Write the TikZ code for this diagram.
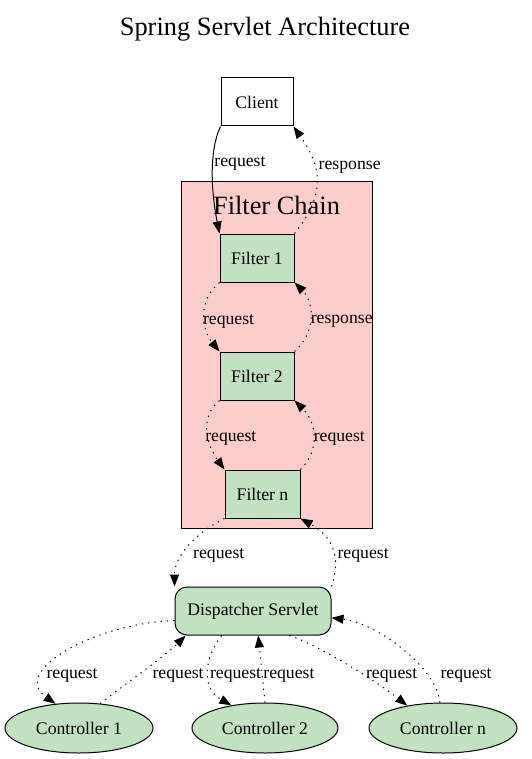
\documentclass[tikz,border=0pt]{standalone}
\usepackage{fontspec}
\setmainfont{Liberation Serif}
\usetikzlibrary{arrows.meta,shapes.geometric}
\usetikzlibrary{positioning}
\definecolor{nodegreen}{HTML}{C1E1C1}
\definecolor{chainpink}{HTML}{FFCCCC}

\begin{document}
\begin{tikzpicture}[%
x=1pt,
y=-1pt,
>={Triangle[length=12pt,width=9pt]},
every node/.style={font=\fontsize{17.7}{20}\selectfont},
big/.style={font=\fontsize{26.4}{30}\selectfont},
box/.style={draw, line width=1pt, minimum width=72pt, minimum height=48pt, inner sep=0pt},
filterbox/.style={box, fill=nodegreen, minimum width=74pt},
ctrl/.style={ellipse, draw, line width=1pt, fill=nodegreen, minimum width=148pt, minimum height=50pt, inner sep=0pt},
flow/.style={->, line width=1pt, dash pattern=on 1.3pt off 5pt},
lbl/.style={anchor=west, inner sep=0pt, yshift=-4pt},
]
\useasboundingbox (0,0) rectangle (531,759);

\coordinate (T) at (265,29);
\coordinate (K) at (257,102);
\coordinate (FC) at (276.5,355);
\coordinate (F1) at (257,258);
\coordinate (F2) at (257,376);
\coordinate (FN) at (262.5,494);
\coordinate (DS) at (253,611);
\coordinate (C1) at (79,728);
\coordinate (C2) at (265,728);
\coordinate (CN) at (443,728);

%Knoten
\node[big] (title) at (T) {Spring Servlet Architecture};
\node[box] (client) at (K) {Client};
\node[draw, fill=chainpink, line width=1pt, minimum width=191pt, minimum height=346pt] (chain) at (FC) {};
\node[big, inner sep=0pt, below=14pt of chain.north] (chainlbl) {Filter Chain};
\node[filterbox] (f1) at (F1) {Filter 1};
\node[filterbox] (f2) at (F2) {Filter 2};
\node[filterbox, minimum width=75pt] (fn) at (FN) {Filter n};
\node[box, fill=nodegreen, rounded corners=12pt, minimum width=156pt] (ds) at (DS) {Dispatcher Servlet};
\node[ctrl] (c1) at (C1) {Controller 1};
\node[ctrl, minimum width=146pt] (c2) at (C2) {Controller 2};
\node[ctrl] (cn) at (CN) {Controller n};

%Kanten
\draw[->, line width=1pt] (client.south west) .. controls +(-12,25) and +(-8,-40) .. (f1.north west)
  node[lbl, pos=.36, xshift=1pt]{request};
\draw[flow] (f1.north east) .. controls +(32,-40) and +(28,40) .. (client.south east)
  node[lbl, pos=.67, xshift=5pt]{response};
\draw[flow] (f1.south west) .. controls +(-22,18) and +(-18,-22) .. (f2.north west)
  node[lbl, pos=.5, xshift=-2pt, yshift=-2pt]{request};
\draw[flow] (f2.north east) .. controls +(24,-22) and +(18,18) .. (f1.south east)
  node[lbl, pos=.5, yshift=-2pt]{response};
\draw[flow] (f2.south west) .. controls +(-22,18) and +(-16,-22) .. (fn.north west)
  node[lbl, pos=.5, xshift=-3pt, yshift=-1pt]{request};
\draw[flow] (fn.north east) .. controls +(20,-20) and +(22,22) .. (f2.south east)
  node[lbl, pos=.5, yshift=1pt]{request};
\draw[flow] (fn.south west) .. controls +(-30,15) and +(0,-30) .. (ds.north west)
  node[lbl, pos=.55, xshift=7pt, yshift=-1pt]{request};
\draw[flow] (ds.north east) .. controls +(10,-30) and +(32,18) .. (fn.south east)
  node[lbl, pos=.45, xshift=4pt]{request};
\draw[flow] (ds.187) .. controls +(-77,2) and +(-47,-33) .. (c1.134)
  node[lbl, pos=.7]{request};
\draw[flow] (c1.49) .. controls +(15,-12) and +(-20,20) .. (ds.200)
  node[lbl, pos=.48, xshift=13pt, yshift=3pt]{request};
\draw[flow] (ds.218) .. controls +(-16,20) and +(-32,-18) .. (c2.146)
  node[lbl, pos=.5, xshift=1pt]{request};
\draw[flow] (c2.north) -- (ds.282)
  node[lbl, pos=.46, xshift=1pt]{request};
\draw[flow] (ds.326) .. controls +(35,12) and +(-25,-20) .. (cn.148)
  node[lbl, pos=.55, xshift=7pt]{request};
\draw[flow] (cn.97) .. controls +(-3,-35) and +(45,5) .. (ds.355)
  node[lbl, pos=.25, xshift=12pt, yshift=4pt]{request};

\end{tikzpicture}
\end{document}
